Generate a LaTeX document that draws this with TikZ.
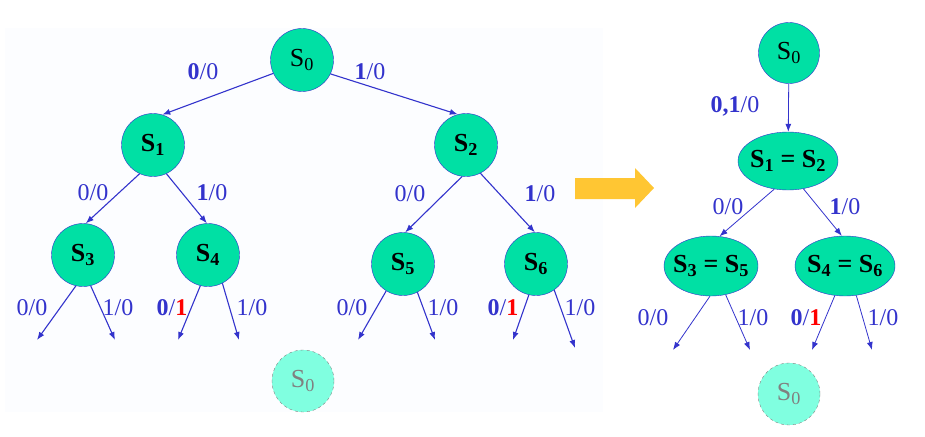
\documentclass[tikz,border=0pt]{standalone}
\usepackage{fontspec}
\setmainfont{Liberation Serif}
\usepackage{tikz}
\usetikzlibrary{shapes.geometric, arrows.meta}
\usepackage{xcolor}
\definecolor{statefill}{RGB}{0,224,164}
\definecolor{ghostfill}{RGB}{128,255,224}
\definecolor{edgeblue}{RGB}{51,51,204}
\definecolor{outred}{RGB}{255,0,0}
\definecolor{arrowgold}{RGB}{255,198,51}
\definecolor{panelbg}{RGB}{252,253,255}
\newcommand{\St}[1]{S\textsubscript{#1}}
\newcommand{\outone}{\textcolor{outred}{\textbf{1}}}
\newcommand{\mergedtext}[1]{\makebox[0pt]{\textbf{#1}}}

\begin{document}
\begin{tikzpicture}[x=1pt, y=-1pt,
    state/.style={circle, draw=edgeblue, fill=statefill, minimum size=63pt, inner sep=0pt, font=\fontsize{26}{28}\selectfont},
    merged/.style={ellipse, draw=edgeblue, fill=statefill, minimum width=100pt, minimum height=58pt, inner sep=0pt, font=\fontsize{26}{28}\selectfont},
    ghost/.style={circle, draw=gray, dashed, fill=ghostfill, text=gray, minimum size=62pt, inner sep=0pt, font=\fontsize{26}{28}\selectfont},
    lab/.style={text=edgeblue, inner sep=0pt, font=\fontsize{24}{26}\selectfont},
    edge/.style={draw=edgeblue, line width=1.1pt, -{Latex[length=8pt,width=6pt]}},
    thinedge/.style={edge, line width=0.8pt}]
        \useasboundingbox (0,0) rectangle (925,436);
        \fill[panelbg] (5,28) rectangle (603,412);
        % left tree
        \node[state] (s0) at (302,60) {\St{0}};
        \node[state] (s1) at (153,145) {\textbf{\St{1}}};
        \node[state] (s2) at (466,145) {\textbf{\St{2}}};
        \node[state] (s3) at (83,255) {\textbf{\St{3}}};
        \node[state] (s4) at (208,255) {\textbf{\St{4}}};
        \node[state] (s5) at (403,264) {\textbf{\St{5}}};
        \node[state] (s6) at (536,264) {\textbf{\St{6}}};
        \node[ghost] (g0) at (303,381) {\St{0}};
        \draw[edge] (s0.205) -- (s1.73);
        \draw[edge] (s0.334) -- (s2.105);
        \draw[edge] (s1.245) -- (s3.85);
        \draw[edge] (s1.295) -- (s4.92);
        \draw[edge] (s2.263) -- (s5.86);
        \draw[edge] (s2.297) -- (s6.92);
        \coordinate (s3l) at (37,340);
        \coordinate (s3r) at (115,340);
        \coordinate (s4l) at (178,340);
        \coordinate (s4r) at (239,340);
        \coordinate (s5l) at (358,340);
        \coordinate (s5r) at (435,340);
        \coordinate (s6l) at (513,340);
        \coordinate (s6r) at (575,348);
        \draw[edge] (s3.257) -- (s3l);
        \draw[edge] (s3.284) -- (s3r);
        \draw[edge] (s4.256) -- (s4l);
        \draw[edge] (s4.297) -- (s4r);
        \draw[edge] (s5.238) -- (s5l);
        \draw[edge] (s5.297) -- (s5r);
        \draw[edge] (s6.257) -- (s6l);
        \draw[edge] (s6.305) -- (s6r);
        \node[lab] (l01) at (203,72) {\textbf{0}/0};
        \node[lab] (l02) at (370,72) {\textbf{1}/0};
        \node[lab] (l13) at (93,193) {0/0};
        \node[lab] (l14) at (212,193) {\textbf{1}/0};
        \node[lab] (l25) at (410,194) {0/0};
        \node[lab] (l26) at (540,194) {\textbf{1}/0};
        \node[lab] (l3a) at (32,308) {0/0};
        \node[lab] (l3b) at (118,308) {1/0};
        \node[lab] (l4a) at (172,308) {\textbf{0}/\outone};
        \node[lab] (l4b) at (252,308) {1/0};
        \node[lab] (l5a) at (352,308) {0/0};
        \node[lab] (l5b) at (443,308) {1/0};
        \node[lab] (l6a) at (503,308) {\textbf{0}/\outone};
        \node[lab] (l6b) at (580,308) {1/0};
        % big arrow
        \fill[arrowgold] (575,178) -- (635,178) -- (635,168) -- (654,188) -- (635,208) -- (635,199) -- (575,199) -- cycle;
        % right tree
        \node[state, minimum size=61pt] (r0) at (789,53) {\St{0}};
        \node[merged] (r12) at (788,161) {\mergedtext{\St{1} = \St{2}}};
        \node[merged, minimum width=94pt, minimum height=60pt] (r35) at (711,266) {\mergedtext{\St{3} = \St{5}}};
        \node[merged, minimum height=60pt] (r46) at (845,266) {\mergedtext{\St{4} = \St{6}}};
        \node[ghost] (rg) at (789,394) {\St{0}};
        \draw[thinedge] (r0) -- (r12);
        \draw[thinedge] (r12.244) -- (r35.74);
        \draw[thinedge] (r12.299) -- (r46.96);
        \coordinate (r35l) at (673,350);
        \coordinate (r35r) at (750,350);
        \coordinate (r46l) at (812,350);
        \coordinate (r46r) at (872,350);
        \draw[thinedge] (r35.268) -- (r35l);
        \draw[thinedge] (r35.297) -- (r35r);
        \draw[thinedge] (r46.251) -- (r46l);
        \draw[thinedge] (r46.291) -- (r46r);
        \node[lab] (m01) at (735,106) {\textbf{0,1}/0};
        \node[lab] (m13) at (728,207) {0/0};
        \node[lab] (m14) at (845,207) {\textbf{1}/0};
        \node[lab] (m3a) at (653,318) {0/0};
        \node[lab] (m3b) at (753,318) {1/0};
        \node[lab] (m4a) at (806,318) {\textbf{0}/\outone};
        \node[lab] (m4b) at (883,318) {1/0};
    \end{tikzpicture}
\end{document}
